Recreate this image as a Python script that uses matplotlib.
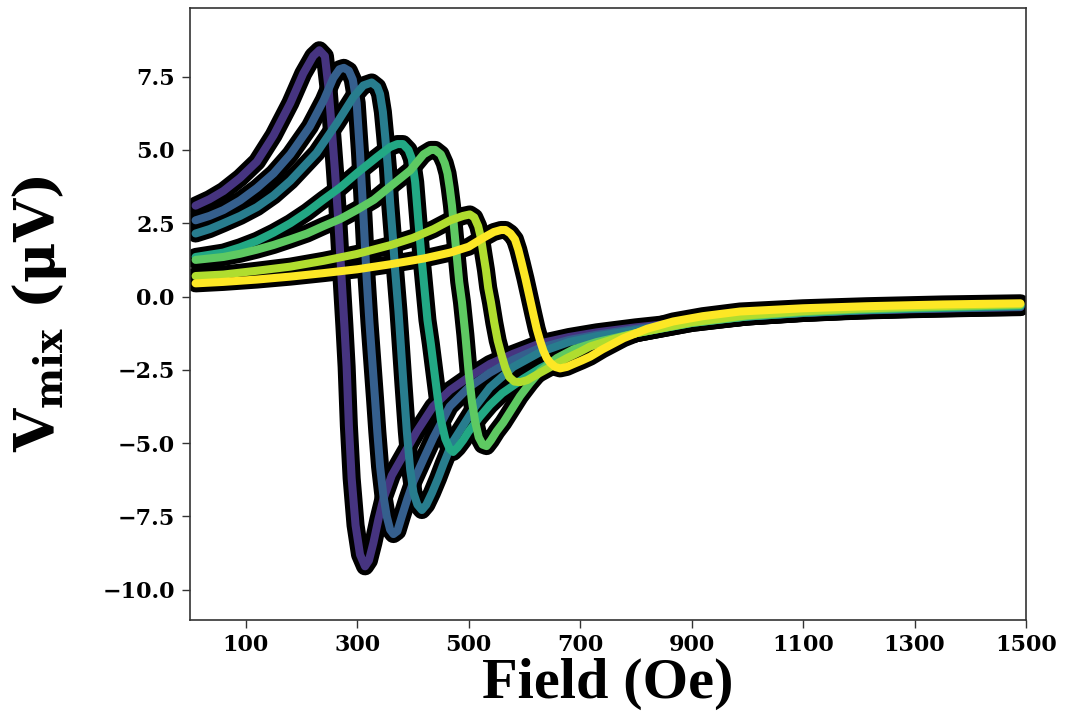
import numpy as np
import matplotlib
matplotlib.use("Agg")
import matplotlib.pyplot as plt

# ─────────────────────────────────────────────
# DATA  (field in Oe, V_mix in µV)
# ─────────────────────────────────────────────
field_1 = [10, 35, 60, 90, 120, 150, 180, 203, 221, 232, 242, 248, 254, 260, 266, 272, 277,
           281, 285, 290, 297, 305, 314, 321, 329, 338, 347, 362, 377, 407, 436, 466,
           500, 538, 580, 628, 680, 730, 800, 900, 1000, 1100, 1200, 1300, 1400, 1490]
vmix_1 = [3.10, 3.32, 3.60, 4.05, 4.60, 5.50, 6.60, 7.60, 8.20, 8.40, 8.20, 7.20, 5.80, 4.30, 2.60, 0.60, -1.00,
          -2.40, -4.40, -6.20, -7.80, -8.80, -9.20, -9.00, -8.40, -7.60, -6.90, -6.10, -5.60, -4.60, -3.75, -3.20,
          -2.75, -2.30, -1.95, -1.60, -1.38, -1.22, -1.05, -0.85, -0.68, -0.56, -0.48, -0.43, -0.39, -0.36]

field_2 = [10, 35, 60, 90, 120, 150, 180, 215, 240, 257, 268, 276, 285, 292, 299, 305, 311, 317,
           322, 327, 332, 336, 341, 347, 353, 359, 365, 372, 380, 390, 401, 420, 437,
           466, 500, 538, 580, 628, 680, 730, 800, 900, 1000, 1100, 1200, 1300, 1400, 1490]
vmix_2 = [2.60, 2.75, 2.95, 3.28, 3.70, 4.20, 4.85, 5.80, 6.70, 7.45, 7.75, 7.80, 7.70, 7.40, 6.60, 4.90, 2.80, 0.60,
          -0.90, -2.20, -3.50, -4.60, -5.80, -6.80, -7.50, -7.95, -8.10, -8.00, -7.50, -6.90, -6.30, -5.50, -4.80,
          -3.75, -3.10, -2.60, -2.15, -1.75, -1.48, -1.30, -1.10, -0.86, -0.67, -0.55, -0.47, -0.42, -0.38, -0.35]

field_3 = [10, 35, 60, 90, 120, 150, 180, 227, 263, 293, 311, 326, 336, 341, 346, 350, 355, 359,
           364, 368, 374, 378, 383, 389, 395, 401, 408, 416, 424, 434, 445, 455, 470,
           490, 510, 538, 580, 628, 680, 730, 800, 900, 1000, 1100, 1200, 1300, 1400, 1490]
vmix_3 = [2.15, 2.30, 2.50, 2.75, 3.05, 3.45, 3.95, 4.90, 5.90, 6.80, 7.20, 7.30, 7.15, 6.90, 6.30, 5.50, 4.40, 3.20,
          2.00, 0.90, -0.50, -1.60, -3.00, -4.60, -5.90, -6.70, -7.10, -7.28, -7.10, -6.70, -6.20, -5.70, -5.00,
          -4.40, -3.80, -3.10, -2.40, -1.90, -1.55, -1.35, -1.15, -0.88, -0.68, -0.56, -0.47, -0.41, -0.37, -0.33]

field_4 = [10, 60, 90, 120, 150, 180, 210, 239, 270, 299, 335, 359, 372, 382, 392, 398, 404, 410, 416,
           421, 426, 432, 438, 444, 450, 458, 466, 472, 480, 490, 500, 520, 538, 560,
           598, 628, 658, 700, 750, 800, 900, 1000, 1100, 1200, 1300, 1400, 1490]
vmix_4 = [1.35, 1.50, 1.68, 1.90, 2.18, 2.50, 2.88, 3.30, 3.73, 4.20, 4.75, 5.10, 5.20, 5.20, 5.00, 4.70, 3.90, 2.50, 1.20,
          0.20, -0.80, -1.60, -2.50, -3.40, -4.20, -4.85, -5.20, -5.30, -5.15, -4.90, -4.60, -4.10, -3.70, -3.30,
          -2.80, -2.45, -2.15, -1.80, -1.50, -1.25, -0.90, -0.68, -0.55, -0.46, -0.40, -0.35, -0.31]

field_5 = [10, 60, 90, 120, 150, 180, 210, 239, 270, 299, 330, 359, 395, 419, 432, 440, 450, 457, 462, 466,
           470, 474, 478, 483, 488, 494, 500, 506, 512, 518, 525, 532, 540, 550, 562,
           577, 592, 610, 628, 658, 688, 730, 800, 900, 1000, 1100, 1200, 1300, 1400, 1490]
vmix_5 = [1.25, 1.35, 1.46, 1.60, 1.76, 1.95, 2.15, 2.40, 2.65, 2.95, 3.30, 3.75, 4.30, 4.85, 5.00, 5.00, 4.85, 4.55, 4.20, 3.70,
          3.10, 2.30, 1.50, 0.50, -0.20, -1.30, -2.60, -3.60, -4.30, -4.80, -5.05, -5.10, -4.90, -4.60, -4.30,
          -3.85, -3.40, -2.95, -2.55, -2.10, -1.80, -1.55, -1.25, -0.90, -0.67, -0.53, -0.44, -0.38, -0.33, -0.29]

field_6 = [10, 60, 120, 180, 240, 299, 359, 400, 437, 467, 490, 502, 510, 517, 522,
           526, 531, 535, 540, 546, 552, 559, 566, 573, 582, 592, 605, 628, 652, 676,
           700, 718, 760, 800, 900, 1000, 1100, 1200, 1300, 1400, 1490]
vmix_6 = [0.70, 0.75, 0.88, 1.02, 1.22, 1.45, 1.75, 2.00, 2.30, 2.60, 2.75, 2.80, 2.70, 2.40, 2.00,
          1.50, 0.90, 0.30, -0.20, -0.90, -1.50, -2.00, -2.45, -2.75, -2.90, -2.92, -2.85, -2.60, -2.35, -2.10,
          -1.88, -1.70, -1.45, -1.25, -0.88, -0.64, -0.50, -0.41, -0.35, -0.30, -0.26]

field_7 = [10, 60, 120, 180, 240, 300, 359, 420, 467, 500, 526, 545, 558, 566, 575,
           583, 589, 595, 602, 609, 616, 622, 628, 634, 640, 646, 655, 664, 676, 688,
           703, 718, 740, 778, 820, 867, 920, 987, 1100, 1214, 1350, 1490]
vmix_7 = [0.45, 0.50, 0.58, 0.68, 0.80, 0.93, 1.10, 1.30, 1.50, 1.70, 2.00, 2.20, 2.27, 2.27, 2.15,
          1.95, 1.60, 1.15, 0.60, 0.00, -0.60, -1.10, -1.50, -1.85, -2.10, -2.25, -2.40, -2.45, -2.40, -2.30,
          -2.18, -2.05, -1.80, -1.42, -1.10, -0.85, -0.67, -0.51, -0.40, -0.33, -0.27, -0.23]

FIELDS = [field_1, field_2, field_3, field_4, field_5, field_6, field_7]
VMIX = [vmix_1, vmix_2, vmix_3, vmix_4, vmix_5, vmix_6, vmix_7]
CMAP_POS = [0.15, 0.30, 0.42, 0.60, 0.75, 0.88, 1.0]

XTICKS = [100, 300, 500, 700, 900, 1100, 1300, 1500]
YTICKS = [-10.0, -7.5, -5.0, -2.5, 0.0, 2.5, 5.0, 7.5]

# ─────────────────────────────────────────────
# PLOT
# ─────────────────────────────────────────────
plt.rcParams["mathtext.fontset"] = "dejavuserif"

fig = plt.figure(figsize=(10.67, 7.22), dpi=100)
ax = fig.add_axes([0.1781, 0.1413, 0.7835, 0.8476])

colors = plt.cm.viridis(CMAP_POS)

# measured data (black) underneath, fits on top
for h, v in zip(FIELDS, VMIX):
    ax.plot(h, v, color="black", lw=13, solid_capstyle="round",
            solid_joinstyle="round", zorder=1)
for h, v, c in zip(FIELDS, VMIX, colors):
    ax.plot(h, v, color=c, lw=5.8, solid_capstyle="round",
            solid_joinstyle="round", zorder=2)

ax.set_xlim(0, 1500)
ax.set_ylim(-11.03, 9.84)
ax.set_xticks(XTICKS)
ax.set_yticks(YTICKS)

for s in ax.spines.values():
    s.set_color("#333333")
    s.set_linewidth(1.2)
ax.tick_params(direction="out", length=6, width=1.0, color="#333333", pad=5)
ax.tick_params(axis="x", pad=4)
for lab in ax.get_xticklabels() + ax.get_yticklabels():
    lab.set_fontfamily("DejaVu Serif")
    lab.set_fontweight("bold")
    lab.set_fontsize(16)

ax.set_xlabel("Field (Oe)", fontfamily="Liberation Serif", fontweight="bold",
              fontsize=42)
ax.xaxis.set_label_coords(0.5, -0.062)
ax.set_ylabel(r"$\mathbf{V}_{\mathbf{mix}}$ (μV)", fontfamily="DejaVu Serif",
              fontweight="bold", fontsize=40)
ax.yaxis.set_label_coords(-0.145, 0.5)

fig.savefig("out.png", dpi=100)
